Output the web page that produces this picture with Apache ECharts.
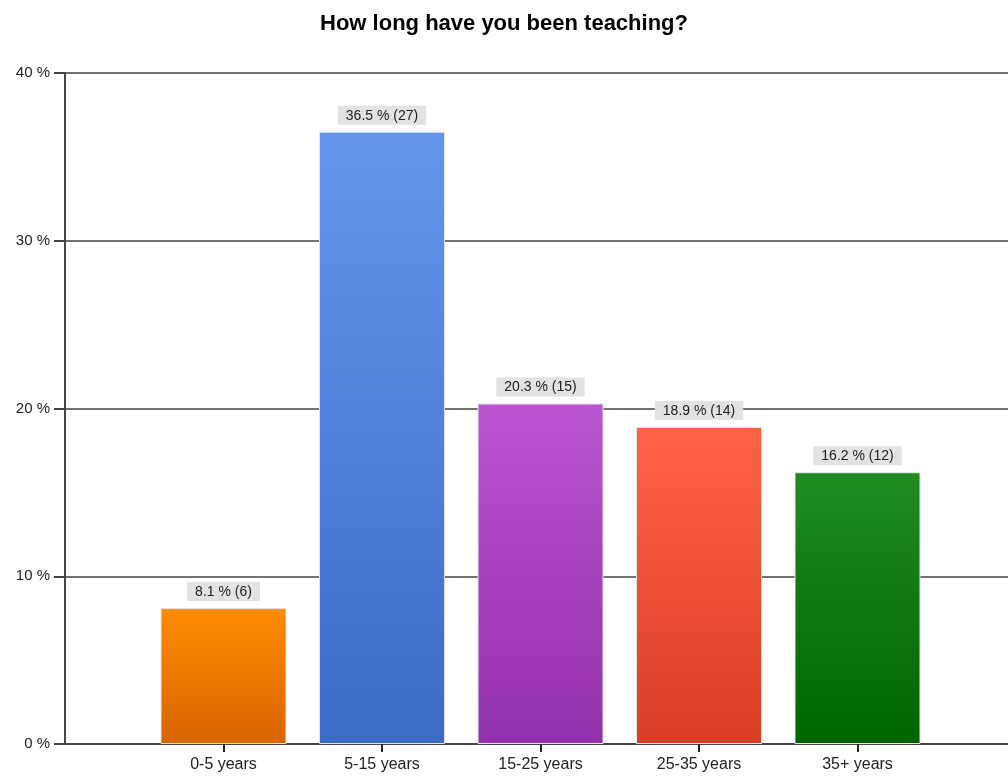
<!DOCTYPE html>
<html>
<head>
<meta charset="utf-8">
<script src="https://cdn.jsdelivr.net/npm/echarts@6/dist/echarts.min.js"></script>
<style>html,body{margin:0;padding:0;background:#fff;}#c{width:1008px;height:776px;}</style>
</head>
<body>
<div id="c"></div>
<script>
var categories = ['', '0-5 years', '5-15 years', '15-25 years', '25-35 years', '35+ years', ''];
var percents = [null, 8.1, 36.5, 20.3, 18.9, 16.2, null];
var counts = [null, 6, 27, 15, 14, 12, null];
var topColors = [null, '#ff8c00', '#6495ed', '#ba55d3', '#ff6347', '#228b22', null];
var bottomColors = [null, '#d86400', '#3d6cc6', '#9330ae', '#d93f26', '#006400', null];
var yTicks = [0, 10, 20, 30, 40];

var chart = echarts.init(document.getElementById('c'));
var data = percents.map(function (v, i) {
  if (v === null) return '-';
  return {
    value: v,
    itemStyle: {
      color: new echarts.graphic.LinearGradient(0, 0, 0, 1, [
        { offset: 0, color: topColors[i] },
        { offset: 1, color: bottomColors[i] }
      ]),
      borderColor: '#e6e6e6',
      borderWidth: 1
    }
  };
});
chart.setOption({
  animation: false,
  title: {
    text: 'How long have you been teaching?',
    left: 'center',
    top: 8,
    textStyle: { fontFamily: 'Liberation Sans, Arial', fontSize: 22, fontWeight: 'bold', color: '#000' }
  },
  grid: { left: 65, top: 73, width: 951, height: 671, containLabel: false, outerBoundsMode: 'none' },
  xAxis: {
    type: 'category',
    data: categories,
    boundaryGap: false,
    axisLine: { lineStyle: { color: '#444', width: 2 } },
    axisTick: {
      length: 8,
      lineStyle: { color: '#222', width: 2 },
      interval: function (idx) { return idx >= 1 && idx <= 5; }
    },
    axisLabel: {
      interval: 0,
      fontFamily: 'Liberation Sans, Arial',
      fontSize: 16,
      color: '#222',
      margin: 13
    },
    splitLine: { show: false }
  },
  yAxis: {
    type: 'value',
    min: yTicks[0],
    max: yTicks[yTicks.length - 1],
    interval: 10,
    axisLine: { show: true, lineStyle: { color: '#444', width: 2 } },
    axisTick: { show: true, length: 11, lineStyle: { color: '#444', width: 2 } },
    axisLabel: {
      formatter: '{value} %',
      fontFamily: 'Liberation Sans, Arial',
      fontSize: 15,
      color: '#222',
      margin: 15
    },
    splitLine: { show: true, lineStyle: { color: '#444', width: 1.5 } }
  },
  series: [{
    type: 'bar',
    data: data,
    barWidth: 126,
    label: {
      show: true,
      position: 'top',
      distance: 7,
      formatter: function (p) { return p.value + ' % (' + counts[p.dataIndex] + ')'; },
      fontFamily: 'Liberation Sans, Arial',
      fontSize: 14,
      color: '#222',
      backgroundColor: '#e2e2e2',
      padding: [3, 8, 2, 8]
    }
  }]
});
</script>
</body>
</html>
